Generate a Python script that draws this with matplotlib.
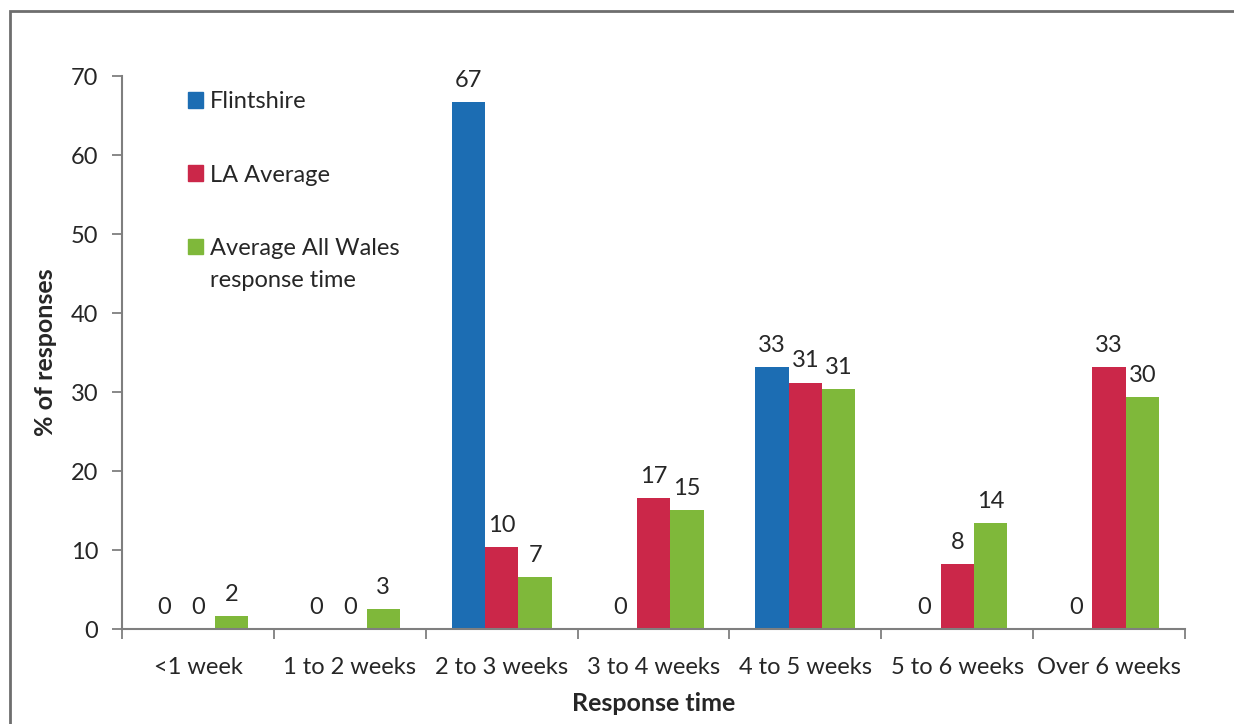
import matplotlib.pyplot as plt
import numpy as np
from matplotlib.patches import Rectangle


categories = ["<1 week", "1 to 2 weeks", "2 to 3 weeks", "3 to 4 weeks",
              "4 to 5 weeks", "5 to 6 weeks", "Over 6 weeks"]
series_names = ["Flintshire", "LA Average", "Average All Wales\nresponse time"]
flintshire = [0, 0, 66.7, 0, 33.2, 0, 0]
la_average = [0, 0, 10.4, 16.6, 31.2, 8.2, 33.2]
all_wales = [1.6, 2.5, 6.6, 15.1, 30.4, 13.4, 29.4]
flintshire_labels = ["0", "0", "67", "0", "33", "0", "0"]
la_labels = ["0", "0", "10", "17", "31", "8", "33"]
wales_labels = ["2", "3", "7", "15", "31", "14", "30"]
yticks = [0, 10, 20, 30, 40, 50, 60, 70]

COLORS = ["#1c6db3", "#cb2749", "#7fb83a"]
TEXT = "#262626"
SPINE = "#7f7f7f"
FONT = "Lato"
FS = 17

plt.rcParams["font.family"] = [FONT, "DejaVu Sans"]

fig = plt.figure(figsize=(12.34, 7.24), dpi=100)
ax = fig.add_axes([0.0989, 0.1312, 0.8614, 0.7638])

x = np.arange(len(categories))
width = 0.22
series = [flintshire, la_average, all_wales]
labels = [flintshire_labels, la_labels, wales_labels]

for i, (vals, labs) in enumerate(zip(series, labels)):
    pos = x + (i - 1) * width
    ax.bar(pos, vals, width, color=COLORS[i], linewidth=0, zorder=2)
    for px, v, lab in zip(pos, vals, labs):
        ax.annotate(lab, (px, v), xytext=(0, 8), textcoords="offset points",
                    ha="center", va="bottom", fontsize=FS, color=TEXT)

ax.set_xlim(-0.5, len(categories) - 0.5)
ax.set_ylim(0, 70)
ax.set_yticks(yticks)
ax.set_xticks(x)
ax.set_xticklabels(categories)
ax.set_xticks(np.arange(len(categories) + 1) - 0.5, minor=True)
ax.tick_params(axis="x", which="major", length=0, pad=20, labelsize=FS, labelcolor=TEXT)
ax.tick_params(axis="x", which="minor", length=7, width=1.3, color=SPINE, direction="out")
ax.tick_params(axis="y", length=7, width=1.3, color=SPINE, pad=10, labelsize=FS, labelcolor=TEXT)

for side in ("top", "right"):
    ax.spines[side].set_visible(False)
for side in ("left", "bottom"):
    ax.spines[side].set_color(SPINE)
    ax.spines[side].set_linewidth(1.5)

ax.set_xlabel("Response time", fontsize=18, fontweight="bold", color=TEXT, labelpad=10)
ax.set_ylabel("% of responses", fontsize=18, fontweight="bold", color=TEXT, labelpad=10)

# legend drawn by hand so the square sits on the first line of the wrapped label
legend_y = [0.862, 0.761, 0.659]
for name, color, ly in zip(series_names, COLORS, legend_y):
    fig.patches.append(Rectangle((0.1523, ly - 0.0105), 0.0122, 0.021,
                                 transform=fig.transFigure, color=color))
    fig.text(0.170, ly + 0.0117, name, fontsize=FS, color=TEXT, va="top",
             linespacing=1.6)

# outer chart frame (top and left edges visible)
fig.patches.append(Rectangle((0.0085, -0.1), 1.2, 1.085, transform=fig.transFigure,
                             fill=False, edgecolor="#6e6e6e", linewidth=2))

fig.savefig("out.png", dpi=100)
